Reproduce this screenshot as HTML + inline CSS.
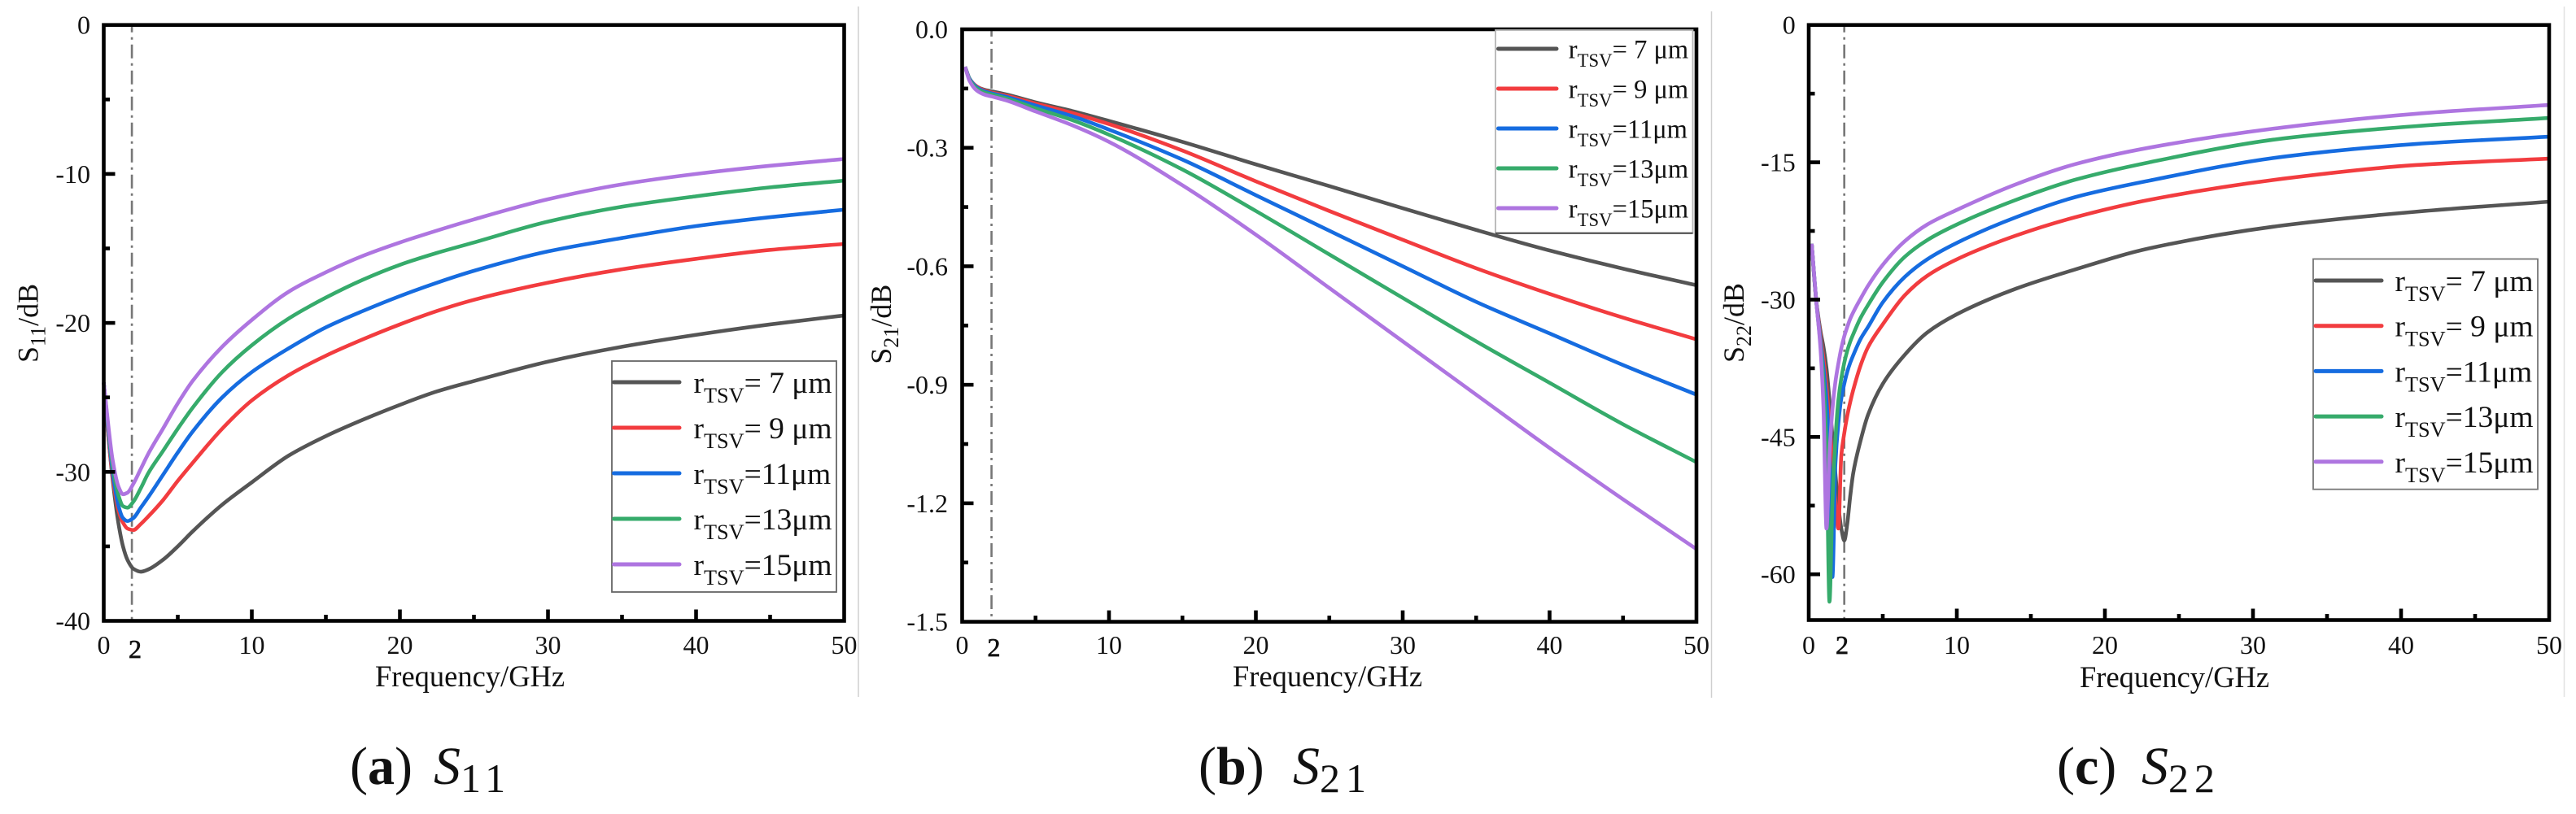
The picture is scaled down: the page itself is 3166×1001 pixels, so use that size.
<!DOCTYPE html>
<html lang="en">
<head>
<meta charset="utf-8">
<title>S-parameters versus frequency for TSV radii</title>
<style>
html,body{margin:0;padding:0;background:#fff;}
svg{display:block;}
text{font-family:"Liberation Serif",serif;fill:#111;}
</style>
</head>
<body>
<svg id="figure" xmlns="http://www.w3.org/2000/svg" width="3166" height="1001" viewBox="0 0 3166 1001">
  <rect x="0" y="0" width="3166" height="1001" fill="#fff"/>
  <line x1="1055" y1="8" x2="1055" y2="857" stroke="#cfcfcf" stroke-width="1.5"/>
  <line x1="2103.5" y1="14" x2="2103.5" y2="858" stroke="#cfcfcf" stroke-width="1.5"/>
  <line x1="3151.5" y1="8" x2="3151.5" y2="857" stroke="#e2e2e2" stroke-width="1.5"/>
  <g id="panels"></g>
  <text x="430" y="964" font-size="66">(<tspan font-weight="bold">a</tspan>)<tspan x="533" font-style="italic">S</tspan><tspan dy="10" font-size="50" letter-spacing="7">11</tspan></text>
  <text x="1473" y="964" font-size="66">(<tspan font-weight="bold">b</tspan>)<tspan x="1589" font-style="italic">S</tspan><tspan dy="10" font-size="50" letter-spacing="7">21</tspan></text>
  <text x="2528" y="964" font-size="66">(<tspan font-weight="bold">c</tspan>)<tspan x="2632" font-style="italic">S</tspan><tspan dy="10" font-size="50" letter-spacing="7">22</tspan></text>
</svg>
<script>
/* ---------- shared labels ---------- */
const seriesNames = ["7", "9", "11", "13", "15"];
const legendSuffixes = ["= 7 μm", "= 9 μm", "=11μm", "=13μm", "=15μm"];
const seriesColors = ["#555555", "#F23C3F", "#166CE0", "#36AB6B", "#AE75E0"];
const xTickLabels = [0, 10, 20, 30, 40, 50];
const xMinorTicks = [5, 15, 25, 35, 45];

/* ---------- S11 data ---------- */
const s11Freq = [0, 0.3, 0.6, 1, 1.3, 1.6, 2, 2.5, 3, 4, 5, 6, 8, 10, 12.5, 15, 17.5, 20, 22.5, 25, 30, 35, 40, 45, 50];
const s11R7 = [-24, -27.5, -30.5, -33.5, -35.0, -35.9, -36.5, -36.7, -36.55, -35.9, -35.0, -34.0, -32.2, -30.7, -28.9, -27.6, -26.5, -25.5, -24.6, -23.9, -22.6, -21.6, -20.8, -20.1, -19.5];
const s11R9 = [-24, -27.5, -30.3, -32.6, -33.4, -33.8, -33.9, -33.5, -33.0, -31.9, -30.6, -29.4, -27.1, -25.2, -23.5, -22.2, -21.1, -20.1, -19.2, -18.45, -17.3, -16.4, -15.7, -15.1, -14.7];
const s11R11 = [-24, -27.2, -30, -32.3, -33.1, -33.3, -33.1, -32.4, -31.7, -30.2, -28.7, -27.3, -25, -23.3, -21.7, -20.3, -19.2, -18.2, -17.3, -16.5, -15.2, -14.3, -13.5, -12.9, -12.4];
const s11R13 = [-24, -27, -29.6, -31.6, -32.3, -32.4, -32, -31.1, -30.1, -28.6, -27.1, -25.7, -23.3, -21.5, -19.7, -18.3, -17.1, -16.1, -15.3, -14.6, -13.2, -12.2, -11.5, -10.9, -10.45];
const s11R15 = [-24, -26.8, -29.2, -31, -31.5, -31.4, -30.8, -29.8, -28.8, -27.1, -25.4, -23.9, -21.6, -19.8, -17.9, -16.6, -15.5, -14.6, -13.8, -13.05, -11.7, -10.7, -10.0, -9.45, -9];
const s11MajorTicks = [0, -10, -20, -30, -40];
const s11MinorTicks = [-5, -15, -25, -35];
const s11MarkerFreq = 1.9;

/* ---------- S21 data ---------- */
const s21Freq = [0.2, 0.5, 1, 1.5, 2, 3, 5, 7.5, 10, 15, 20, 25, 30, 35, 40, 45, 50];
const s21R7 = [-0.095, -0.125, -0.145, -0.153, -0.157, -0.165, -0.185, -0.207, -0.232, -0.285, -0.342, -0.397, -0.453, -0.508, -0.56, -0.606, -0.648];
const s21R9 = [-0.095, -0.125, -0.145, -0.155, -0.16, -0.168, -0.188, -0.212, -0.24, -0.307, -0.385, -0.46, -0.533, -0.605, -0.67, -0.73, -0.785];
const s21R11 = [-0.095, -0.125, -0.147, -0.157, -0.162, -0.171, -0.193, -0.22, -0.254, -0.33, -0.42, -0.51, -0.60, -0.69, -0.77, -0.85, -0.925];
const s21R13 = [-0.095, -0.127, -0.15, -0.16, -0.165, -0.175, -0.2, -0.23, -0.267, -0.355, -0.46, -0.57, -0.68, -0.79, -0.895, -1.0, -1.096];
const s21R15 = [-0.095, -0.13, -0.155, -0.165, -0.17, -0.18, -0.208, -0.243, -0.285, -0.395, -0.52, -0.655, -0.79, -0.925, -1.06, -1.19, -1.316];
const s21MajorTicks = [0, -0.3, -0.6, -0.9, -1.2, -1.5];
const s21MinorTicks = [-0.15, -0.45, -0.75, -1.05, -1.35];
const s21MarkerFreq = 2;

/* ---------- S22 data ---------- */
const s22Freq = [0.2, 0.5, 0.8, 1.0, 1.2, 1.4, 1.6, 1.8, 2.0, 2.2, 2.4, 2.6, 2.8, 3.0, 3.5, 4, 5, 6.5, 8, 10, 14, 18, 23, 32, 41, 50];
const s22R7 = [-23.9, -30, -33.5, -35.2, -37.5, -41, -45, -49, -52.5, -55, -56.3, -54.5, -51.5, -49, -45.4, -42.6, -39.2, -36, -33.6, -31.6, -28.8, -26.7, -24.4, -21.9, -20.4, -19.3];
const s22R9 = [-23.9, -30, -34, -36.5, -39.5, -43.5, -48, -52, -55, -47, -44.6, -42.7, -41.2, -39.9, -37.2, -35.2, -32.7, -29.5, -27.4, -25.6, -23, -21, -19.1, -16.8, -15.3, -14.6];
const s22R11 = [-23.9, -30, -34.5, -37.5, -41, -47, -60.3, -48, -43.5, -40.8, -39.2, -37.9, -36.9, -36.1, -34.3, -33, -30.3, -27.5, -25.6, -23.8, -21, -18.8, -17, -14.4, -13, -12.2];
const s22R13 = [-23.9, -30, -35, -39, -46, -63, -52, -45.3, -41, -38.6, -36.9, -35.6, -34.6, -33.8, -32, -30.6, -28.1, -25.3, -23.5, -21.8, -19.1, -16.9, -15, -12.4, -11.05, -10.16];
const s22R15 = [-23.9, -30, -35.5, -42, -55, -47, -42, -39, -37, -35.3, -34, -33, -32.1, -31.4, -29.9, -28.5, -26.2, -23.6, -21.8, -20.2, -17.4, -15.2, -13.4, -11.2, -9.7, -8.74];
const s22MajorTicks = [0, -15, -30, -45, -60];
const s22MinorTicks = [-7.5, -22.5, -37.5, -52.5];
const s22MarkerFreq = 2.4;

/* ---------- drawing helpers ---------- */
const SVGNS = "http://www.w3.org/2000/svg";
function make(parent, tag, attrs, text) {
  const el = document.createElementNS(SVGNS, tag);
  for (const k in attrs) el.setAttribute(k, attrs[k]);
  if (text !== undefined) el.textContent = text;
  parent.appendChild(el);
  return el;
}
/* shape-preserving cubic through the points, parameterised on x */
function smoothPath(pts) {
  const n = pts.length;
  const h = [], s = [], m = new Array(n);
  for (let i = 0; i < n - 1; i++) {
    h[i] = pts[i + 1][0] - pts[i][0];
    s[i] = (pts[i + 1][1] - pts[i][1]) / h[i];
  }
  m[0] = s[0];
  m[n - 1] = s[n - 2];
  for (let i = 1; i < n - 1; i++) {
    if (s[i - 1] * s[i] <= 0) { m[i] = 0; continue; }
    const w1 = 2 * h[i] + h[i - 1], w2 = h[i] + 2 * h[i - 1];
    m[i] = (w1 + w2) / (w1 / s[i - 1] + w2 / s[i]);
  }
  let d = "M" + pts[0][0].toFixed(2) + " " + pts[0][1].toFixed(2);
  for (let i = 0; i < n - 1; i++) {
    const c1x = pts[i][0] + h[i] / 3, c1y = pts[i][1] + m[i] * h[i] / 3;
    const c2x = pts[i + 1][0] - h[i] / 3, c2y = pts[i + 1][1] - m[i + 1] * h[i] / 3;
    d += "C" + c1x.toFixed(2) + " " + c1y.toFixed(2) + " " + c2x.toFixed(2) + " " + c2y.toFixed(2) + " " + pts[i + 1][0].toFixed(2) + " " + pts[i + 1][1].toFixed(2);
  }
  return d;
}

function drawPanel(cfg) {
  const root = document.getElementById("panels");
  const g = make(root, "g", {});
  
  

  const xScale = f => cfg.left + (f / 50) * (cfg.right - cfg.left);
  const yScale = v => cfg.top + (v / cfg.yMin) * (cfg.bottom - cfg.top);

  /* marker line */
  const marker = make(g, "line", {x1: xScale(cfg.markerFreq), x2: xScale(cfg.markerFreq), y1: cfg.top, y2: cfg.bottom, stroke: "#777", "stroke-width": 2.6, "stroke-dasharray": "17 6 3 6", "stroke-dashoffset": 8});
  
  

  /* series */
  cfg.series.forEach((vals, i) => {
    const pts = vals.map((v, j) => [xScale(cfg.freq[j]), yScale(v)]);
    const line = make(g, "path", {d: smoothPath(pts), fill: "none", stroke: seriesColors[i], "stroke-width": 4.6, "stroke-linejoin": "round"});
    
    
  });

  /* frame */
  const frame = make(g, "rect", {x: cfg.left, y: cfg.top, width: cfg.right - cfg.left, height: cfg.bottom - cfg.top, fill: "none", stroke: "#000", "stroke-width": 4.6});
  
  

  /* x ticks */
  xTickLabels.forEach(t => {
    if (t > 0 && t < 50) {
      const tick = make(g, "line", {x1: xScale(t), x2: xScale(t), y1: cfg.bottom, y2: cfg.bottom - 14, stroke: "#000", "stroke-width": 4.6});
      
      
    }
    const label = make(g, "text", {x: xScale(t), y: cfg.xLabelY, "font-size": 32, "text-anchor": "middle"}, String(t));
    
    
  });
  xMinorTicks.forEach(t => {
    const tick = make(g, "line", {x1: xScale(t), x2: xScale(t), y1: cfg.bottom, y2: cfg.bottom - 7.5, stroke: "#000", "stroke-width": 4.6});
    
    
  });
  const two = make(g, "text", {x: cfg.twoX, y: cfg.twoY, "font-size": 32, "text-anchor": "middle", stroke: "#111", "stroke-width": 0.7}, "2");
  
  

  /* y ticks */
  cfg.yMajor.forEach(v => {
    if (v !== 0 && v !== cfg.yMin) {
      const tick = make(g, "line", {x1: cfg.left, x2: cfg.left + 14, y1: yScale(v), y2: yScale(v), stroke: "#000", "stroke-width": 4.6});
      
      
    }
    const label = make(g, "text", {x: cfg.yLabelX, y: yScale(v) + 11, "font-size": 32, "text-anchor": "end"}, cfg.format(v));
    
    
  });
  cfg.yMinor.forEach(v => {
    const tick = make(g, "line", {x1: cfg.left, x2: cfg.left + 7.5, y1: yScale(v), y2: yScale(v), stroke: "#000", "stroke-width": 4.6});
    
    
  });

  /* axis titles */
  const xTitle = make(g, "text", {x: cfg.xTitleX, y: cfg.xTitleY, "font-size": 36.5}, "Frequency/GHz");
  
  

  const yTitle = make(g, "text", {transform: "translate(" + cfg.yTitleX + "," + cfg.yTitleY + ") rotate(-90)", "font-size": 36});
  
  
  make(yTitle, "tspan", {}, "S");
  make(yTitle, "tspan", {dy: 9, "font-size": 26}, cfg.sub);
  make(yTitle, "tspan", {dy: -9}, "/dB");

  /* legend */
  const L = cfg.legend;
  const legend = make(g, "g", {});
  
  
  const box = make(legend, "rect", {x: L.x0, y: L.y0, width: L.x1 - L.x0, height: L.y1 - L.y0, fill: "#fff", stroke: L.border, "stroke-width": 1.8});
  
  
  legendSuffixes.forEach((suffix, i) => {
    const rowY = L.firstY + i * L.step;
    const sample = make(legend, "line", {x1: L.lineX0, x2: L.lineX1, y1: rowY, y2: rowY, stroke: seriesColors[i], "stroke-width": 5, "stroke-linecap": "round"});
    
    
    const label = make(legend, "text", {x: L.textX, y: rowY + L.baseline, "font-size": L.font});
    
    
    make(label, "tspan", {}, "r");
    make(label, "tspan", {dy: L.font * 0.32, "font-size": L.font * 0.7}, "TSV");
    make(label, "tspan", {dy: -L.font * 0.32}, suffix);
  });
  if (L.bottomRule) {
    const rule = make(legend, "line", {x1: L.x0, x2: L.x1, y1: L.y1, y2: L.y1, stroke: L.bottomRule, "stroke-width": 2});
    
    
  }
}

/* ---------- panels ---------- */
drawPanel({
  id: "s11", sub: "11", freq: s11Freq, series: [s11R7, s11R9, s11R11, s11R13, s11R15],
  yMin: -40, yMajor: s11MajorTicks, yMinor: s11MinorTicks, markerFreq: s11MarkerFreq,
  format: v => String(v),
  left: 127.5, right: 1037.5, top: 30.7, bottom: 763.5,
  xLabelY: 804, twoX: 166, twoY: 809, yLabelX: 111,
  xTitleX: 461, xTitleY: 844, yTitleX: 46.5, yTitleY: 446,
  legend: {x0: 752, x1: 1028, y0: 444, y1: 728, firstY: 470, step: 56, lineX0: 754.5, lineX1: 835, textX: 852.5, baseline: 13, font: 37.5, border: "#666"}
});
drawPanel({
  id: "s21", sub: "21", freq: s21Freq, series: [s21R7, s21R9, s21R11, s21R13, s21R15],
  yMin: -1.5, yMajor: s21MajorTicks, yMinor: s21MinorTicks, markerFreq: s21MarkerFreq,
  format: v => v.toFixed(1),
  left: 1182.5, right: 2085, top: 36, bottom: 764.6,
  xLabelY: 804, twoX: 1221.5, twoY: 807, yLabelX: 1165,
  xTitleX: 1515, xTitleY: 844, yTitleX: 1095, yTitleY: 447.8,
  legend: {x0: 1838, x1: 2080.5, y0: 37, y1: 286.7, firstY: 60, step: 49, lineX0: 1841.5, lineX1: 1913, textX: 1927.8, baseline: 11.5, font: 32.5, border: "#b5b5b5", bottomRule: "#444"}
});
drawPanel({
  id: "s22", sub: "22", freq: s22Freq, series: [s22R7, s22R9, s22R11, s22R13, s22R15],
  yMin: -65, yMajor: s22MajorTicks, yMinor: s22MinorTicks, markerFreq: s22MarkerFreq,
  format: v => String(v),
  left: 2223, right: 3133, top: 30.7, bottom: 762.5,
  xLabelY: 804, twoX: 2264, twoY: 804, yLabelX: 2206.7,
  xTitleX: 2556, xTitleY: 845, yTitleX: 2143, yTitleY: 446,
  legend: {x0: 2843, x1: 3119, y0: 318.5, y1: 601.7, firstY: 345, step: 55.7, lineX0: 2846, lineX1: 2927, textX: 2943.5, baseline: 13, font: 37.5, border: "#777"}
});
</script>
</body>
</html>
